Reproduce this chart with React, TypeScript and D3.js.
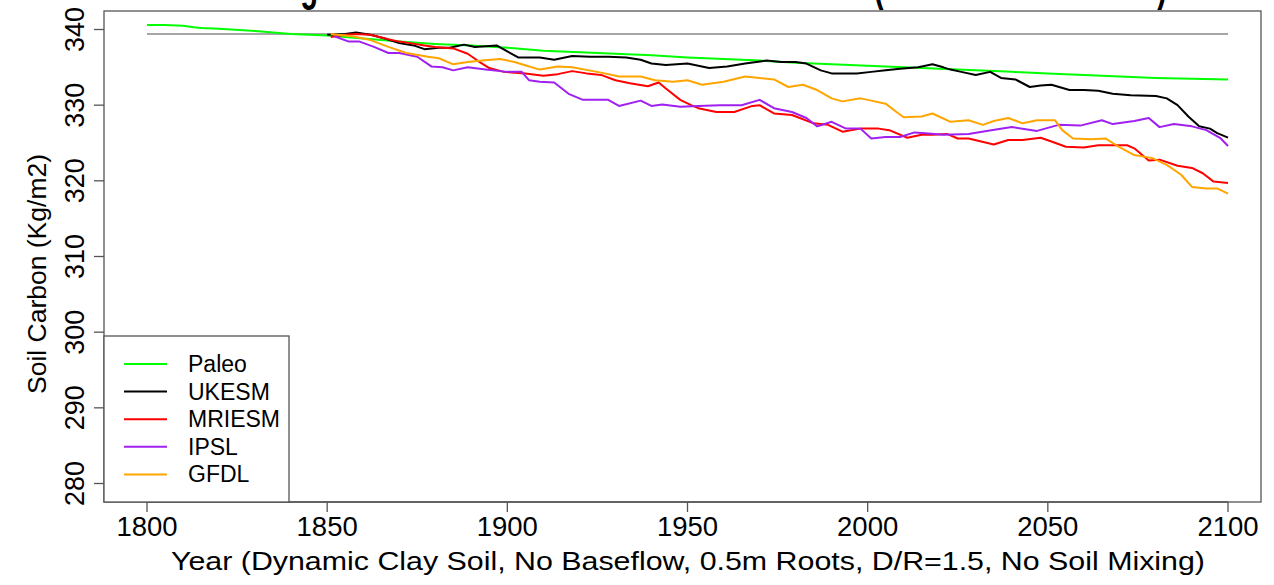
import React from "react";
import * as d3 from "d3";

// ---- data ----
const yearTicks = [1800, 1850, 1900, 1950, 2000, 2050, 2100];
const valueTicks = [280, 290, 300, 310, 320, 330, 340];
const legendNames = ["Paleo", "UKESM", "MRIESM", "IPSL", "GFDL"];
const seriesColors = ["#00ff00", "#000000", "#ff0000", "#a020f0", "#ffa500"];
const referenceYears = [1800, 2100];
const referenceValue = 339.4;

const paleoYears = [1800, 1805, 1810, 1813, 1815, 1820, 1830, 1840, 1850, 1860, 1870, 1880, 1890, 1900, 1910, 1920, 1930, 1940, 1950, 1960, 1970, 1980, 1990, 2000, 2010, 2020, 2030, 2040, 2050, 2060, 2070, 2080, 2090, 2100];
const paleoValues = [340.6, 340.6, 340.5, 340.3, 340.2, 340.1, 339.8, 339.4, 339.2, 338.8, 338.4, 338.1, 337.9, 337.6, 337.2, 337.0, 336.8, 336.6, 336.3, 336.1, 335.9, 335.6, 335.4, 335.2, 335.0, 334.8, 334.6, 334.4, 334.2, 334.0, 333.8, 333.6, 333.5, 333.4];

const ukesmYears = [1850, 1855, 1858, 1862, 1866, 1870, 1874, 1877, 1881, 1884, 1888, 1891, 1894, 1897, 1900, 1903, 1909, 1913, 1918, 1923, 1928, 1933, 1937, 1940, 1944, 1950, 1956, 1961, 1966, 1972, 1976, 1980, 1983, 1987, 1990, 1997, 2001, 2005, 2009, 2014, 2018, 2021, 2023, 2026, 2030, 2034, 2037, 2041, 2045, 2048, 2051, 2056, 2060, 2064, 2068, 2073, 2080, 2083, 2086, 2089, 2092, 2095, 2097, 2100];
const ukesmValues = [339.3, 339.4, 339.6, 339.3, 338.8, 338.2, 337.9, 337.4, 337.6, 337.6, 338.0, 337.7, 337.8, 337.9, 337.1, 336.3, 336.3, 336.0, 336.5, 336.4, 336.4, 336.3, 336.0, 335.5, 335.3, 335.5, 334.9, 335.1, 335.5, 335.9, 335.7, 335.7, 335.5, 334.6, 334.2, 334.2, 334.4, 334.6, 334.8, 335.0, 335.4, 335.0, 334.7, 334.4, 334.0, 334.4, 333.6, 333.4, 332.4, 332.6, 332.7, 332.0, 332.0, 331.9, 331.5, 331.3, 331.2, 330.9, 330.0, 328.5, 327.2, 326.9, 326.3, 325.7];

const mriesmYears = [1851, 1855, 1858, 1862, 1867, 1870, 1873, 1877, 1880, 1885, 1889, 1892, 1895, 1899, 1905, 1910, 1914, 1918, 1922, 1926, 1930, 1934, 1939, 1942, 1944, 1948, 1951, 1953, 1958, 1963, 1968, 1970, 1974, 1979, 1985, 1989, 1993, 1998, 2003, 2006, 2011, 2015, 2018, 2022, 2025, 2028, 2035, 2039, 2043, 2048, 2051, 2055, 2060, 2064, 2072, 2074, 2078, 2081, 2086, 2090, 2093, 2096, 2100];
const mriesmValues = [339.0, 339.3, 339.4, 339.3, 338.7, 338.4, 338.2, 337.9, 337.7, 337.5, 336.8, 335.8, 334.9, 334.4, 334.2, 333.9, 334.1, 334.5, 334.2, 334.0, 333.3, 332.9, 332.5, 333.0, 332.2, 330.7, 330.0, 329.6, 329.1, 329.1, 329.9, 330.0, 328.9, 328.7, 327.6, 327.4, 326.5, 326.9, 326.9, 326.7, 325.7, 326.1, 326.1, 326.2, 325.6, 325.6, 324.8, 325.4, 325.4, 325.7, 325.2, 324.5, 324.4, 324.7, 324.7, 324.3, 322.7, 322.8, 322.0, 321.7, 321.0, 319.9, 319.7];

const ipslYears = [1852, 1856, 1859, 1863, 1867, 1870, 1875, 1879, 1882, 1885, 1889, 1894, 1900, 1904, 1906, 1909, 1913, 1917, 1921, 1928, 1931, 1937, 1940, 1943, 1948, 1953, 1959, 1965, 1970, 1974, 1979, 1983, 1986, 1990, 1994, 1998, 2001, 2005, 2009, 2013, 2016, 2021, 2028, 2033, 2040, 2047, 2053, 2059, 2065, 2068, 2074, 2078, 2081, 2085, 2090, 2094, 2098, 2100];
const ipslValues = [339.1, 338.4, 338.4, 337.7, 336.9, 336.9, 336.4, 335.1, 335.0, 334.6, 335.0, 334.7, 334.4, 334.4, 333.3, 333.1, 333.0, 331.5, 330.7, 330.7, 329.9, 330.6, 329.9, 330.1, 329.8, 329.9, 330.0, 330.0, 330.7, 329.6, 329.1, 328.3, 327.2, 327.8, 326.9, 326.9, 325.6, 325.8, 325.8, 326.4, 326.3, 326.1, 326.2, 326.6, 327.1, 326.6, 327.4, 327.3, 328.0, 327.5, 327.9, 328.3, 327.1, 327.5, 327.2, 326.7, 325.6, 324.6];

const gfdlYears = [1851, 1857, 1862, 1867, 1872, 1878, 1881, 1885, 1889, 1893, 1898, 1902, 1904, 1909, 1914, 1918, 1926, 1931, 1937, 1941, 1946, 1950, 1954, 1960, 1966, 1970, 1974, 1978, 1982, 1986, 1990, 1993, 1998, 2001, 2005, 2008, 2010, 2015, 2018, 2023, 2028, 2032, 2035, 2039, 2043, 2047, 2052, 2054, 2057, 2062, 2066, 2069, 2074, 2079, 2083, 2087, 2090, 2094, 2097, 2100];
const gfdlValues = [339.4, 339.1, 338.6, 337.7, 336.9, 336.4, 336.2, 335.4, 335.7, 335.9, 336.1, 335.7, 335.4, 334.7, 335.1, 335.0, 334.3, 333.8, 333.8, 333.3, 333.1, 333.3, 332.7, 333.1, 333.8, 333.6, 333.4, 332.4, 332.7, 332.0, 330.9, 330.5, 330.9, 330.6, 330.2, 329.1, 328.4, 328.5, 328.9, 327.8, 328.0, 327.4, 327.9, 328.3, 327.6, 328.0, 328.0, 326.7, 325.6, 325.5, 325.6, 324.7, 323.4, 323.0, 322.1, 320.8, 319.2, 319.0, 319.0, 318.3];

const seriesYears = [paleoYears, ukesmYears, mriesmYears, ipslYears, gfdlYears];
const seriesValues = [paleoValues, ukesmValues, mriesmValues, ipslValues, gfdlValues];

const titleText = "Average Soil Carbon Over Time For All Models (Historical + SSP585)";
const xLabel = "Year (Dynamic Clay Soil, No Baseflow, 0.5m Roots, D/R=1.5, No Soil Mixing)";
const yLabel = "Soil Carbon (Kg/m2)";

// ---- layout ----
const W = 1274;
const H = 585;
const box = { left: 104, right: 1261, top: 11, bottom: 502 };
const FONT = "'Liberation Sans', Arial, Helvetica, sans-serif";

export default function App() {
  const x = d3.scaleLinear().domain([1800, 2100]).range([147, 1228]);
  const y = d3.scaleLinear().domain([280, 340]).range([483.5, 29.5]);
  const line = d3
    .line<[number, number]>()
    .x((d) => x(d[0]))
    .y((d) => y(d[1]));

  const legendTop = 336;
  const legendRight = 289;
  const legendRowY = (i: number) => 364 + i * 27.6;

  return (
    <svg
      width={W}
      height={H}
      style={{ position: "absolute", left: 0, top: 0, background: "#fff" }}
      fontFamily={FONT}
    >
      <rect x={0} y={0} width={W} height={H} fill="#fff" />
      {/* title (mostly cut off at the top, as in the reference) */}
      <g transform="translate(0,-0.5) scale(1,1.65)">
        <text
          x={220}
          y={0}
          fontSize={29}
          fontWeight="bold"
          textLength={947}
          lengthAdjust="spacingAndGlyphs"
          fill="#000"
        >
          {titleText}
        </text>
      </g>

      {/* reference line */}
      <path
        d={line(referenceYears.map((yr) => [yr, referenceValue]) as [number, number][]) || ""}
        fill="none"
        stroke="#a6a6a6"
        strokeWidth={2}
      />

      {/* series */}
      {seriesValues.map((vals, i) => (
        <path
          key={legendNames[i]}
          d={line(vals.map((v, j) => [seriesYears[i][j], v]) as [number, number][]) || ""}
          fill="none"
          stroke={seriesColors[i]}
          strokeWidth={2}
          strokeLinejoin="round"
        />
      ))}

      {/* plot box */}
      <rect
        x={box.left}
        y={box.top}
        width={box.right - box.left}
        height={box.bottom - box.top}
        fill="none"
        stroke="#555"
        strokeWidth={1.3}
      />

      {/* x axis */}
      <line x1={x(1800)} x2={x(2100)} y1={box.bottom} y2={box.bottom} stroke="#555" strokeWidth={1.3} />
      {yearTicks.map((t) => (
        <g key={t}>
          <line x1={x(t)} x2={x(t)} y1={box.bottom} y2={box.bottom + 10} stroke="#555" strokeWidth={1.3} />
          <text x={x(t)} y={536} fontSize={27.5} textAnchor="middle" fill="#000">
            {t}
          </text>
        </g>
      ))}
      <text x={688} y={570} fontSize={26} textAnchor="middle" textLength={1034} lengthAdjust="spacingAndGlyphs" fill="#000">
        {xLabel}
      </text>

      {/* y axis */}
      {valueTicks.map((t) => (
        <g key={t}>
          <line x1={box.left - 10} x2={box.left} y1={y(t)} y2={y(t)} stroke="#555" strokeWidth={1.3} />
          <text
            transform={`translate(84,${y(t)}) rotate(-90)`}
            fontSize={27}
            textAnchor="middle"
            fill="#000"
          >
            {t}
          </text>
        </g>
      ))}
      <text
        transform={`translate(46,274) rotate(-90)`}
        fontSize={26.5}
        textAnchor="middle"
        fill="#000"
      >
        {yLabel}
      </text>

      {/* legend */}
      <rect
        x={box.left}
        y={legendTop}
        width={legendRight - box.left}
        height={box.bottom - legendTop}
        fill="#fff"
        stroke="#555"
        strokeWidth={1.3}
      />
      {legendNames.map((name, i) => (
        <g key={name}>
          <line x1={124} x2={167} y1={legendRowY(i)} y2={legendRowY(i)} stroke={seriesColors[i]} strokeWidth={2} />
          <text x={188} y={legendRowY(i) + 8} fontSize={23} fill="#000">
            {name}
          </text>
        </g>
      ))}
    </svg>
  );
}
